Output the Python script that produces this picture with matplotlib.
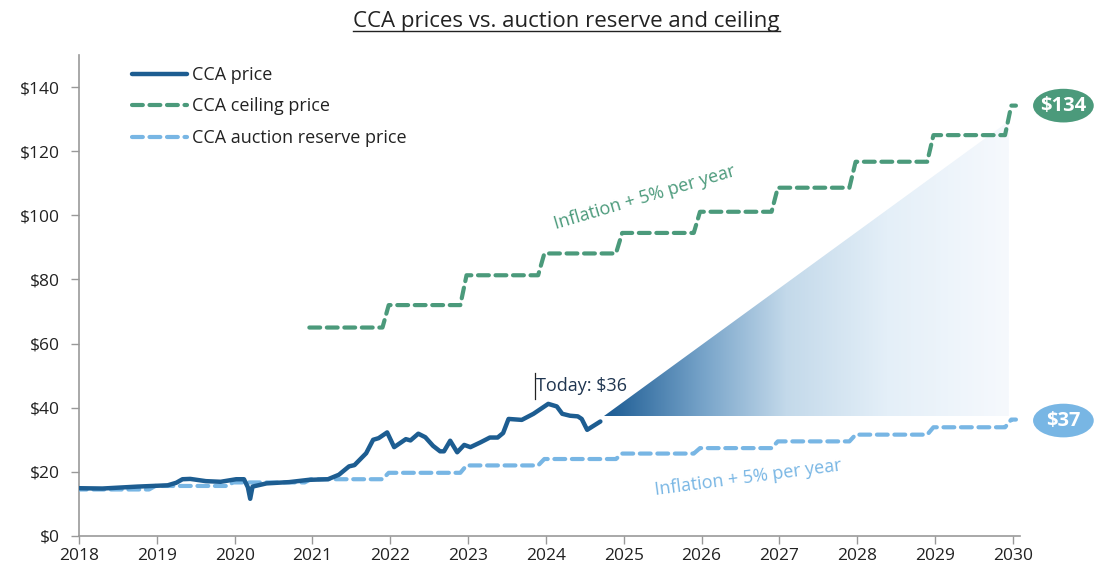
import numpy as np
import matplotlib
matplotlib.use("Agg")
import matplotlib.pyplot as plt
from matplotlib.colors import LinearSegmentedColormap
from matplotlib.patches import Polygon, Ellipse
from matplotlib.lines import Line2D

plt.rcParams['font.family'] = ['Open Sans', 'DejaVu Sans']

# CCA secondary market price (decimal year, $)
cca_t = [2018.0, 2018.3, 2018.75, 2019.14, 2019.25, 2019.33, 2019.43, 2019.63, 2019.82,
         2020.02, 2020.12, 2020.17, 2020.2, 2020.23, 2020.41, 2020.7, 2020.95, 2021.2,
         2021.34, 2021.47, 2021.54, 2021.69, 2021.78, 2021.85, 2021.96, 2022.05, 2022.2,
         2022.26, 2022.36, 2022.45, 2022.55, 2022.64, 2022.69, 2022.77, 2022.86, 2022.95,
         2023.03, 2023.16, 2023.28, 2023.38, 2023.45, 2023.52, 2023.69, 2023.84, 2024.03,
         2024.14, 2024.21, 2024.31, 2024.41, 2024.46, 2024.53, 2024.7]
cca_p = [14.9, 14.8, 15.4, 15.8, 16.6, 17.7, 17.8, 17.1, 16.9,
         17.7, 17.7, 15.2, 11.6, 15.4, 16.4, 16.8, 17.5, 17.7,
         19.1, 21.7, 22.1, 25.8, 30.0, 30.5, 32.3, 27.7, 30.2,
         29.8, 31.9, 30.8, 28.1, 26.4, 26.4, 29.7, 26.1, 28.4,
         27.7, 29.2, 30.7, 30.7, 32.1, 36.5, 36.2, 38.1, 41.2,
         40.4, 38.1, 37.5, 37.3, 36.5, 33.1, 35.7]

# yearly price ceiling and auction reserve price
ceil_years = [2021, 2022, 2023, 2024, 2025, 2026, 2027, 2028, 2029, 2030]
ceil_vals = [65.0, 72.0, 81.3, 88.1, 94.5, 101.1, 108.6, 116.7, 125.0, 134.2]
res_years = [2018, 2019, 2020, 2021, 2022, 2023, 2024, 2025, 2026, 2027, 2028, 2029, 2030]
res_vals = [14.5, 15.6, 16.7, 17.7, 19.7, 22.0, 24.0, 25.7, 27.4, 29.5, 31.6, 33.9, 36.3]

today_t, today_p = 2024.75, 37.3   # start of projection cone
cone_end = 2029.95

c_dark = '#1d5d91'
c_green = '#4b9a7b'
c_light = '#78b6e4'


def steps(years, vals):
    # flat within a year, short ramp just before each new year
    xs, ys = [years[0] - 0.04], [vals[0]]
    for i in range(1, len(years)):
        xs += [years[i] - 0.1, years[i] - 0.02]
        ys += [vals[i - 1], vals[i]]
    xs.append(years[-1] + 0.04)
    ys.append(vals[-1])
    return xs, ys


fig = plt.figure(figsize=(10.94, 5.73), dpi=100)
ax = fig.add_axes([0.0722, 0.0646, 0.860, 0.8395])

# projection cone with horizontal gradient
cmap = LinearSegmentedColormap.from_list('cone', [(0, '#1b5b93'), (0.25, '#79a5ca'),
                                                  (0.45, '#c3d9ea'), (0.7, '#e4eff8'),
                                                  (1, '#f6f9fd')])
cx, cy = steps(ceil_years, ceil_vals)
top_p = np.interp(cone_end, cx, cy) - 1.3
grad = np.linspace(0, 1, 256).reshape(1, -1)
im = ax.imshow(grad, cmap=cmap, aspect='auto', extent=(today_t, cone_end, today_p, top_p),
               origin='lower', zorder=1)
tri = Polygon([(today_t, today_p), (cone_end, today_p), (cone_end, top_p)],
              closed=True, transform=ax.transData, facecolor='none', edgecolor='none')
ax.add_patch(tri)
im.set_clip_path(tri)

ax.plot(cca_t, cca_p, color=c_dark, lw=3.2, solid_capstyle='round', solid_joinstyle='round',
        label='CCA price', zorder=4)
ax.plot(cx, cy, color=c_green, lw=3.0, dashes=(2.6, 1.6), dash_capstyle='round',
        label='CCA ceiling price', zorder=3)
rx, ry = steps(res_years, res_vals)
ax.plot(rx, ry, color=c_light, lw=3.0, dashes=(2.6, 1.6), dash_capstyle='round',
        label='CCA auction reserve price', zorder=3)

ax.set_xlim(2018, 2030.09)
ax.set_ylim(0, 150)
ax.set_xticks(range(2018, 2031))
ax.set_yticks(range(0, 141, 20))
ax.set_yticklabels(['$%d' % v for v in range(0, 141, 20)])
ax.tick_params(axis='both', direction='out', length=5.5, width=1, color='#999999',
               labelsize=12.5, labelcolor='#222222')
ax.tick_params(axis='y', pad=8)
ax.tick_params(axis='x', pad=3.5)
for s in ['top', 'right']:
    ax.spines[s].set_visible(False)
for s in ['left', 'bottom']:
    ax.spines[s].set_color('#999999')
    ax.spines[s].set_linewidth(1.2)

# annotations
ax.text(2025.27, 105.6, 'Inflation + 5% per year', color=c_green, fontsize=13,
        rotation=16.5, ha='center', va='center')
ax.text(2026.6, 18.2, 'Inflation + 5% per year', color=c_light, fontsize=13,
        rotation=7.5, ha='center', va='center')
ax.text(2023.87, 46.8, 'Today: $36', color='#1f3550', fontsize=13, ha='left', va='center')
ax.plot([2023.86, 2023.86], [42.8, 50.9], color='#222222', lw=0.9)

for val, lab, col in [(134.2, '$134', c_green), (36.0, '$37', c_light)]:
    e = Ellipse((2030.65, val), 0.78, 10.5, facecolor=col, edgecolor='none',
                clip_on=False, zorder=5)
    ax.add_patch(e)
    ax.text(2030.65, val, lab, color='white', fontsize=14.5, fontweight='bold',
            ha='center', va='center', zorder=6, clip_on=False)

leg = ax.legend(loc='upper left', bbox_to_anchor=(0.121, 0.885), bbox_transform=fig.transFigure,
                frameon=False, fontsize=13, handlelength=3.0, handletextpad=0.3,
                labelspacing=0.75, borderpad=0, borderaxespad=0)
for t in leg.get_texts():
    t.set_color('#222222')

title = fig.text(0.518, 0.962, 'CCA prices vs. auction reserve and ceiling', ha='center',
                 va='center', fontsize=16, color='#222222')
fig.canvas.draw()
bb = title.get_window_extent().transformed(fig.transFigure.inverted())
fig.add_artist(Line2D([bb.x0, bb.x1], [bb.y0 + 0.002, bb.y0 + 0.002], color='#222222',
                      lw=1.0, transform=fig.transFigure))

fig.savefig('out.png', dpi=100)
